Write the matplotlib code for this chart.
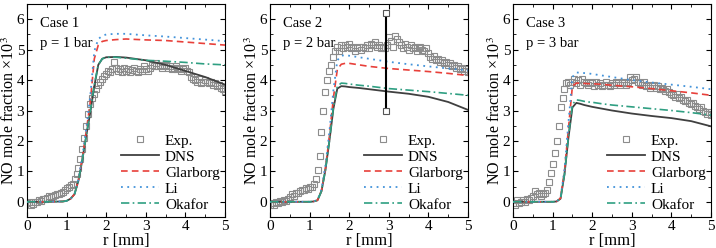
import numpy as np
import matplotlib
matplotlib.use("Agg")
import matplotlib.pyplot as plt
from matplotlib.ticker import MultipleLocator

plt.rcParams['font.family'] = ['Liberation Serif', 'DejaVu Serif']
plt.rcParams['mathtext.fontset'] = 'stix'

# ---------------- data ----------------
r_exp = np.round(np.arange(0, 101) * 0.05, 2)

exp1 = [-0.05, 0.0, -0.1, -0.08, -0.02, 0.0, 0.05, 0.02, 0.08, 0.1,
        0.12, 0.18, 0.15, 0.2, 0.22, 0.25, 0.25, 0.3, 0.32, 0.38,
        0.45, 0.5, 0.55, 0.6, 0.75, 0.9, 1.1, 1.4, 1.75, 2.1,
        2.5, 2.9, 3.2, 3.4, 3.55, 3.7, 3.85, 3.95, 4.05, 4.15,
        4.2, 4.3, 4.25, 4.35, 4.6, 4.4, 4.3, 4.35, 4.25, 4.4,
        4.3, 4.35, 4.28, 4.32, 4.4, 4.3, 4.25, 4.35, 4.3, 4.45,
        4.35, 4.3, 4.4, 4.5, 4.45, 4.55, 4.45, 4.5, 4.4, 4.45,
        4.5, 4.4, 4.45, 4.35, 4.4, 4.45, 4.35, 4.4, 4.3, 4.35,
        4.4, 4.3, 4.25, 4.1, 4.05, 4.0, 3.95, 4.05, 3.9, 3.95,
        4.0, 3.95, 3.9, 3.95, 3.85, 3.9, 3.8, 3.85, 3.75, 3.7,
        3.65]

exp2 = [-0.1, -0.05, -0.12, 0.0, -0.05, 0.02, -0.02, 0.05, 0.02, 0.1,
        0.15, 0.25, 0.2, 0.28, 0.3, 0.35, 0.4, 0.38, 0.45, 0.42,
        0.5, 0.5, 0.6, 0.75, 1.05, 1.5, 2.3, 3.0, 3.6, 4.0,
        4.3, 4.5, 4.75, 4.95, 5.1, 4.95, 5.15, 5.05, 5.15, 5.1,
        5.2, 5.05, 5.1, 4.95, 5.05, 5.1, 5.0, 5.1, 5.05, 5.15,
        5.05, 5.2, 5.15, 5.25, 5.1, 5.15, 5.05, 5.1, 5.05, 5.15,
        5.4, 5.3, 5.1, 5.45, 5.35, 5.25, 5.15, 5.05, 5.2, 5.1,
        5.0, 5.15, 5.05, 5.1, 4.95, 5.05, 5.1, 5.0, 4.95, 5.05,
        4.9, 4.75, 4.7, 4.8, 4.65, 4.7, 4.6, 4.65, 4.55, 4.6,
        4.5, 4.55, 4.45, 4.5, 4.4, 4.45, 4.35, 4.4, 4.3, 4.35,
        4.25]

exp3 = [-0.05, -0.1, 0.05, -0.05, 0.0, 0.05, -0.02, 0.08, 0.05, 0.12,
        0.2, 0.35, 0.25, 0.3, 0.2, 0.25, 0.3, 0.4, 0.65, 0.95,
        1.25, 1.6, 2.0, 2.5, 3.1, 3.4, 3.7, 3.9, 3.95, 3.85,
        3.95, 4.05, 3.9, 4.0, 3.85, 4.05, 3.95, 3.9, 3.85, 3.95,
        3.9, 3.8, 3.95, 3.85, 3.9, 3.8, 3.85, 3.95, 3.85, 3.8,
        3.9, 3.85, 3.95, 3.9, 3.85, 3.95, 3.9, 3.85, 3.95, 4.1,
        4.0, 4.05, 4.1, 3.95, 3.9, 3.85, 3.95, 3.8, 3.85, 3.75,
        3.8, 3.85, 3.75, 3.8, 3.7, 3.75, 3.7, 3.65, 3.7, 3.6,
        3.55, 3.5, 3.45, 3.55, 3.4, 3.45, 3.35, 3.3, 3.35, 3.25,
        3.2, 3.25, 3.15, 3.1, 3.05, 3.1, 3.0, 2.95, 2.9, 2.95,
        2.85]

r_mod = [0, 0.5, 0.9, 1.0, 1.1, 1.2, 1.3, 1.4, 1.5, 1.6, 1.7, 1.8, 1.9,
         2.0, 2.25, 2.5, 3.0, 3.5, 4.0, 4.5, 5.0]

dns1 = [0, 0, 0.01, 0.03, 0.1, 0.25, 0.7, 1.4, 2.2, 2.95, 3.8, 4.5, 4.7,
        4.75, 4.76, 4.74, 4.65, 4.5, 4.3, 4.1, 3.85]
oka1 = [0, 0, 0.01, 0.03, 0.1, 0.25, 0.7, 1.4, 2.2, 3.0, 3.85, 4.5, 4.7,
        4.75, 4.75, 4.72, 4.65, 4.62, 4.58, 4.53, 4.5]
gla1 = [0, 0, 0.01, 0.03, 0.1, 0.25, 0.72, 1.45, 2.35, 3.3, 4.7, 5.15, 5.27,
        5.3, 5.33, 5.35, 5.32, 5.3, 5.25, 5.2, 5.15]
li1 = [0, 0, 0.01, 0.03, 0.1, 0.26, 0.75, 1.5, 2.45, 3.5, 4.95, 5.35, 5.45,
       5.5, 5.52, 5.52, 5.47, 5.43, 5.38, 5.33, 5.28]

dns2 = [0, 0, 0, 0, 0.01, 0.05, 0.35, 1.05, 2.0, 3.05, 3.72, 3.8, 3.79,
        3.77, 3.74, 3.7, 3.62, 3.55, 3.45, 3.28, 3.02]
oka2 = [0, 0, 0, 0, 0.01, 0.05, 0.35, 1.05, 2.0, 3.1, 3.8, 3.9, 3.89,
        3.87, 3.83, 3.8, 3.72, 3.67, 3.62, 3.56, 3.5]
gla2 = [0, 0, 0, 0, 0.01, 0.05, 0.37, 1.1, 2.15, 3.4, 4.35, 4.52, 4.55,
        4.55, 4.5, 4.45, 4.38, 4.33, 4.28, 4.22, 4.15]
li2 = [0, 0, 0, 0, 0.01, 0.06, 0.4, 1.2, 2.3, 3.65, 4.65, 4.8, 4.82,
       4.8, 4.75, 4.7, 4.6, 4.52, 4.45, 4.38, 4.32]

dns3 = [0, 0, 0, 0, 0.01, 0.1, 0.9, 2.1, 3.1, 3.25, 3.22, 3.18, 3.15,
        3.12, 3.06, 3.0, 2.9, 2.82, 2.75, 2.65, 2.48]
oka3 = [0, 0, 0, 0, 0.01, 0.1, 0.9, 2.15, 3.2, 3.35, 3.33, 3.3, 3.28,
        3.27, 3.22, 3.18, 3.12, 3.06, 3.0, 2.93, 2.85]
gla3 = [0, 0, 0, 0, 0.01, 0.12, 1.0, 2.4, 3.8, 3.9, 3.9, 3.89, 3.88,
        3.88, 3.86, 3.83, 3.78, 3.72, 3.65, 3.58, 3.5]
li3 = [0, 0, 0, 0, 0.01, 0.13, 1.05, 2.6, 4.1, 4.25, 4.24, 4.23, 4.22,
       4.2, 4.15, 4.1, 4.0, 3.92, 3.85, 3.78, 3.7]

cases = ["Case 1", "Case 2", "Case 3"]
pressures = ["p = 1 bar", "p = 2 bar", "p = 3 bar"]
exps = [exp1, exp2, exp3]
dns = [dns1, dns2, dns3]
gla = [gla1, gla2, gla3]
li = [li1, li2, li3]
oka = [oka1, oka2, oka3]

# error bar in case 2
err_r = 2.93
err_low = 2.98
err_high = 6.22

# ---------------- plot ----------------
fig = plt.figure(figsize=(7.16, 2.48), dpi=100)
lefts = [27 / 716, 270 / 716, 513 / 716]
w = 198 / 716
b = 1 - 217 / 248
h = 213 / 248

c_exp = '#8c8c8c'
c_dns = '#404040'
c_gla = '#e8403a'
c_li = '#4393da'
c_oka = '#2f9f82'

for i in range(3):
    ax = fig.add_axes([lefts[i], b, w, h])
    ax.plot(r_exp, exps[i], 's', ms=3.9, mfc='none', mec=c_exp, mew=0.8,
            label='Exp.', zorder=2)
    ax.plot(r_mod, dns[i], '-', color=c_dns, lw=1.3, label='DNS', zorder=3)
    ax.plot(r_mod, gla[i], '--', color=c_gla, lw=1.2, dashes=(4, 2.5),
            label='Glarborg', zorder=3)
    ax.plot(r_mod, li[i], ':', color=c_li, lw=1.3, dashes=(1, 2.5),
            label='Li', zorder=3)
    ax.plot(r_mod, oka[i], '-.', color=c_oka, lw=1.2, dashes=(5, 2, 1, 2),
            label='Okafor', zorder=3)
    if i == 1:
        ax.plot([err_r, err_r], [err_low, err_high], '-', color='black',
                lw=1.5, zorder=4)
        ax.plot([err_r, err_r], [err_low, err_high], 's', ms=4.5,
                mfc='white', mec='#555555', mew=0.8, zorder=5)
    ax.set_xlim(0, 5)
    ax.set_ylim(-0.5, 6.5)
    ax.xaxis.set_major_locator(MultipleLocator(1))
    ax.xaxis.set_minor_locator(MultipleLocator(0.5))
    ax.yaxis.set_major_locator(MultipleLocator(1))
    ax.yaxis.set_minor_locator(MultipleLocator(0.5))
    ax.tick_params(which='both', direction='in', top=True, right=True,
                   labelsize=11, pad=2)
    ax.tick_params(which='major', length=3.5, width=0.8)
    ax.tick_params(which='minor', length=2, width=0.6)
    ax.set_xlabel('r [mm]', fontsize=12, labelpad=0)
    ax.set_ylabel('NO mole fraction ×10$^{3}$', fontsize=11.5)
    ax.yaxis.set_label_coords(-0.045, 0.5)
    ax.text(0.33, 5.86, cases[i], fontsize=10.5, va='center', ha='left')
    ax.text(0.33, 5.2, pressures[i], fontsize=10.5, va='center', ha='left')
    ax.legend(loc='lower right', frameon=False, fontsize=11, numpoints=1,
              handlelength=2.5, handletextpad=0.4, labelspacing=0.15,
              borderaxespad=0.15, borderpad=0.2)

fig.savefig('out.png', dpi=100)
